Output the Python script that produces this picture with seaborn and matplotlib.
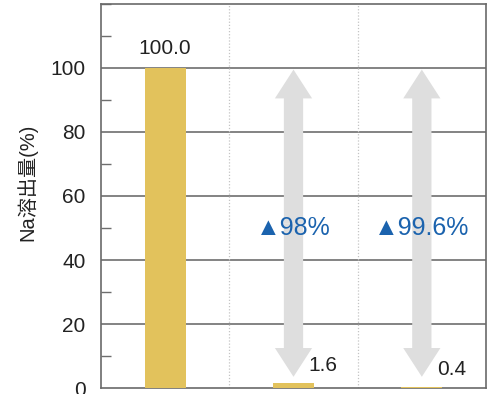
import matplotlib
matplotlib.use("Agg")
import matplotlib.pyplot as plt
from matplotlib.patches import FancyArrow
from matplotlib.ticker import MultipleLocator
import seaborn as sns
import pandas as pd

# Sodium elution relative to the untreated sample
categories = ["A", "B", "C"]
values = [100.0, 1.6, 0.4]
value_labels = ["100.0", "1.6", "0.4"]
reductions = ["", "▲98%", "▲99.6%"]

sns.set_theme(style="white")
fonts = ["Liberation Sans", "Noto Sans CJK JP", "DejaVu Sans"]
plt.rcParams["font.family"] = fonts

df = pd.DataFrame({"cat": categories, "val": values})

fig = plt.figure(figsize=(4.94, 3.94), dpi=100)
ax = fig.add_axes([101 / 494, 6 / 394, 385 / 494, 384 / 394])

sns.barplot(data=df, x="cat", y="val", color="#E2C25C", width=0.32,
            saturation=1, linewidth=0, ax=ax, zorder=3)

ax.set_xlim(-0.5, 2.5)
ax.set_ylim(0, 120)
ax.yaxis.set_minor_locator(MultipleLocator(10))
ax.set_yticks([0, 20, 40, 60, 80, 100])

# horizontal grid at the labelled ticks
for y in [20, 40, 60, 80, 100]:
    ax.axhline(y, color="#6e6e6e", lw=1.2, zorder=1)
# dotted separators between groups
for x in [0.5, 1.5]:
    ax.axvline(x, color="#c4c4c4", lw=0.9, ls=(0, (1, 1.5)), zorder=1)

ax.tick_params(axis="y", which="major", length=0, pad=11, labelsize=15,
               labelcolor="#222222")
ax.tick_params(axis="y", which="minor", direction="in", length=7,
               width=1, color="#6e6e6e", left=True)
ax.tick_params(axis="x", length=0, labelbottom=False)
ax.set_xlabel("")
ax.set_ylabel("Na溶出量(%)", fontsize=14.5, color="#222222", family=fonts)
ax.yaxis.set_label_coords(-0.165, 0.535)

for s in ax.spines.values():
    s.set_color("#6a6a6a")
    s.set_linewidth(1.2)

# value labels
ax.text(0, values[0] + 3, value_labels[0], ha="center", va="bottom",
        fontsize=15, color="#222222", zorder=5)
for i in (1, 2):
    ax.text(i + 0.23, values[i] + 2.5, value_labels[i], ha="center",
            va="bottom", fontsize=15, color="#222222", zorder=5)

# double-headed reduction arrows with percentage labels
top, bottom = values[0] - 0.5, 3.5
mid = (top + bottom) / 2
for i in (1, 2):
    for end in (top, bottom):
        ax.add_patch(FancyArrow(i, mid, 0, end - mid, width=0.15,
                                head_width=0.29, head_length=9,
                                length_includes_head=True,
                                color="#dedede", lw=0, zorder=4))
    ax.text(i, 50, reductions[i], ha="center", va="center", fontsize=18,
            color="#1B63AE", zorder=6, family=["Liberation Sans", "DejaVu Sans"])

fig.savefig("out.png", dpi=100)
